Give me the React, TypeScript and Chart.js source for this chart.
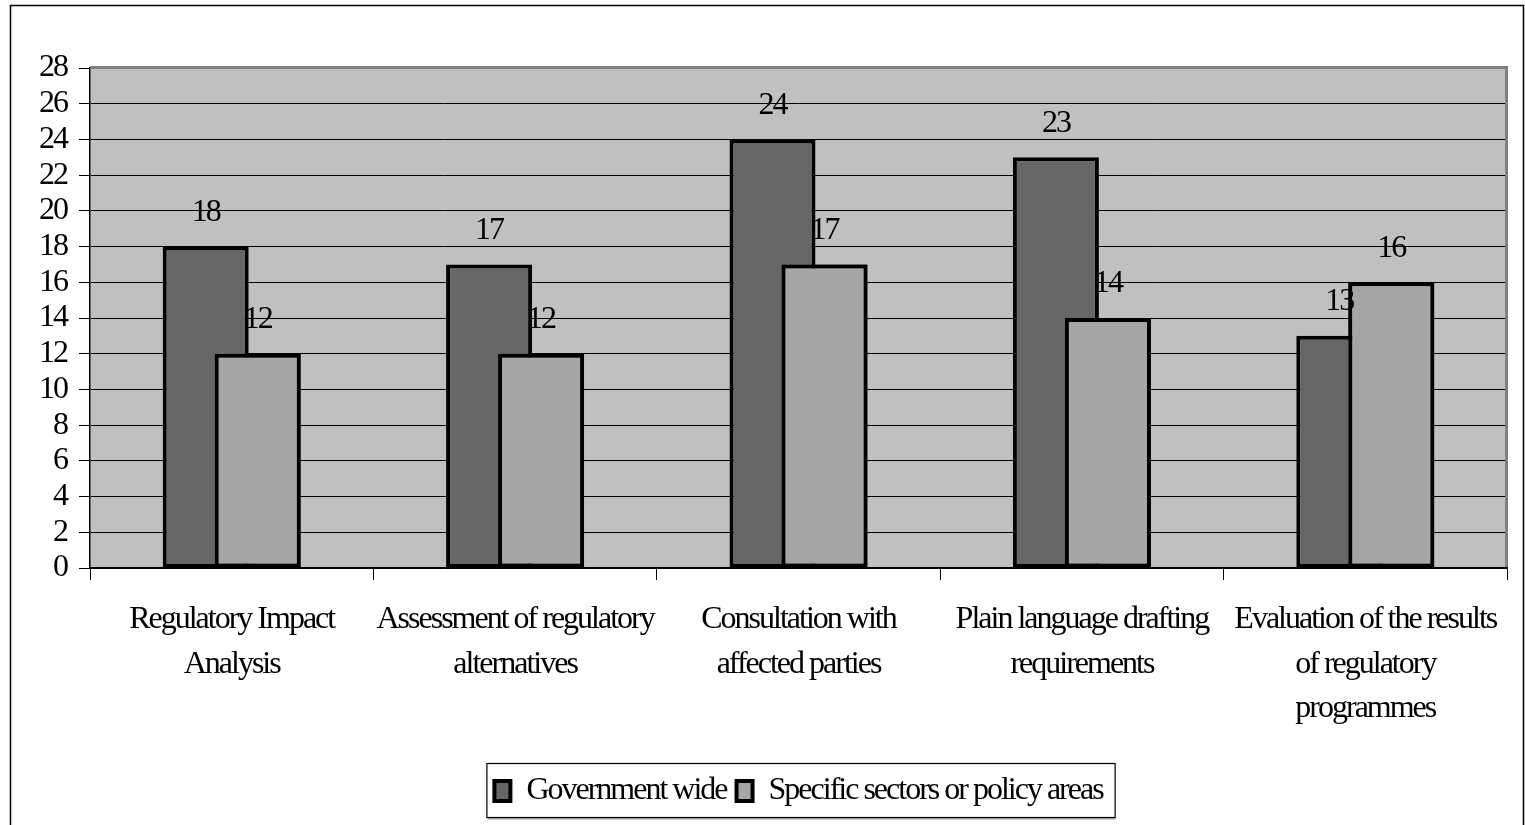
import React, { useEffect, useRef } from "react";
import { Chart, registerables } from "chart.js";

Chart.register(...registerables);

const categories: string[][] = [
  ["Regulatory Impact", "Analysis"],
  ["Assessment of regulatory", "alternatives"],
  ["Consultation with", "affected parties"],
  ["Plain language drafting", "requirements"],
  ["Evaluation of the results", "of regulatory", "programmes"],
];
const seriesNames = ["Government wide", "Specific sectors or policy areas"];
const governmentWide = [18, 17, 24, 23, 13];
const specificSectors = [12, 12, 17, 14, 16];
const yMin = 0;
const yMax = 28;
const yStep = 2;

const FONT = '"Liberation Serif", "Times New Roman", serif';
const FONT_SIZE = 32;
const LETTER_SPACING = "-2px";

const spacingPlugin = {
  id: "spacing",
  beforeUpdate(chart: any) {
    chart.ctx.letterSpacing = LETTER_SPACING;
  },
  beforeLayout(chart: any) {
    chart.ctx.letterSpacing = LETTER_SPACING;
  },
  beforeDraw(chart: any) {
    chart.ctx.letterSpacing = LETTER_SPACING;
    const { ctx, chartArea } = chart;
    ctx.save();
    ctx.fillStyle = "#C0C0C0";
    ctx.fillRect(chartArea.left, chartArea.top, chartArea.right - chartArea.left, chartArea.bottom - chartArea.top);
    ctx.restore();
  },
};

const labelPlugin = {
  id: "valueLabels",
  afterDatasetsDraw(chart: any) {
    const ctx = chart.ctx;
    // the light series sits in front of the dark one
    const m1 = chart.getDatasetMeta(1);
    ctx.save();
    m1.controller.draw();
    ctx.restore();
    ctx.save();
    ctx.letterSpacing = LETTER_SPACING;
    ctx.font = `${FONT_SIZE}px ${FONT}`;
    ctx.fillStyle = "#000";
    ctx.textAlign = "center";
    ctx.textBaseline = "middle";
    chart.data.datasets.forEach((ds: any, i: number) => {
      const meta = chart.getDatasetMeta(i);
      meta.data.forEach((el: any, j: number) => {
        ctx.fillText(String(ds.data[j]), el.x, el.y - 34);
      });
    });
    ctx.restore();
  },
};

const framePlugin = {
  id: "frame",
  afterDraw(chart: any) {
    const { ctx, chartArea } = chart;
    ctx.save();
    // plot area top/right shade
    ctx.fillStyle = "#808080";
    ctx.fillRect(chartArea.left, chartArea.top - 2, chartArea.right - chartArea.left + 1, 3);
    ctx.fillRect(chartArea.right - 2, chartArea.top - 2, 3, chartArea.bottom - chartArea.top + 1);
    // outer frame
    ctx.strokeStyle = "#000";
    ctx.lineWidth = 1.5;
    ctx.strokeRect(10.5, 5.5, 1513, 840);
    // legend frame
    const boxes = chart.legend && chart.legend.legendHitBoxes;
    if (boxes && boxes.length) {
      const first = boxes[0];
      const last = boxes[boxes.length - 1];
      const x0 = first.left - 8;
      const x1 = last.left + last.width + 12;
      const y0 = first.top - 12;
      const y1 = first.top + first.height + 10;
      ctx.lineWidth = 1.2;
      ctx.strokeRect(x0 + 0.5, y0 + 0.5, x1 - x0, y1 - y0);
      ctx.fillStyle = "#999";
      ctx.fillRect(x0 + 1, y1 + 1, x1 - x0, 1.5);
    }
    ctx.restore();
  },
};

export default function App() {
  const ref = useRef<HTMLCanvasElement | null>(null);

  useEffect(() => {
    document.body.style.margin = "0";
    const canvas = ref.current;
    if (!canvas) return;
    const chart = new Chart(canvas, {
      type: "bar",
      data: {
        labels: categories,
        datasets: [
          {
            label: seriesNames[0],
            data: governmentWide,
            backgroundColor: "#666666",
            borderColor: "#000",
            borderWidth: 4,
            borderSkipped: false,
            categoryPercentage: 0.367,
            barPercentage: 1.654,
          },
          {
            label: seriesNames[1],
            data: specificSectors,
            backgroundColor: "#A6A6A6",
            borderColor: "#000",
            borderWidth: 4,
            borderSkipped: false,
            categoryPercentage: 0.367,
            barPercentage: 1.654,
          },
        ],
      } as any,
      options: {
        responsive: false,
        animation: false,
        events: [],
        layout: { padding: { top: 68, left: 0, right: 18, bottom: 8 } },
        plugins: {
          legend: {
            position: "bottom",
            fullSize: false,
            labels: {
              boxWidth: 16,
              boxHeight: 20,
              padding: 10,
              color: "#000",
              font: { size: FONT_SIZE, family: FONT },
            },
          },
          tooltip: { enabled: false },
          title: { display: false },
        },
        scales: {
          x: {
            grid: {
              display: true,
              drawOnChartArea: false,
              drawTicks: true,
              tickLength: 12,
              color: "#000",
              offset: true,
            },
            border: { display: true, color: "#000", width: 1.5 },
            ticks: {
              color: "#000",
              font: { size: FONT_SIZE, family: FONT, lineHeight: 1.4 },
              padding: 17,
              maxRotation: 0,
              autoSkip: false,
            },
            afterFit: (s: any) => {
              s.height = 197;
            },
          },
          y: {
            min: yMin,
            max: yMax,
            ticks: {
              stepSize: yStep,
              autoSkip: false,
              color: "#000",
              font: { size: FONT_SIZE, family: FONT, lineHeight: 1 },
              padding: 12,
            },
            grid: { color: "#000", tickLength: 11, lineWidth: 1 },
            border: { color: "#000", width: 1.5 },
            afterFit: (s: any) => {
              s.width = 90;
            },
          },
        },
      } as any,
      plugins: [spacingPlugin, labelPlugin, framePlugin],
    });
    return () => chart.destroy();
  }, []);

  return (
    <canvas
      ref={ref}
      width={1525}
      height={825}
      style={{ display: "block", width: 1525, height: 825 }}
    />
  );
}
